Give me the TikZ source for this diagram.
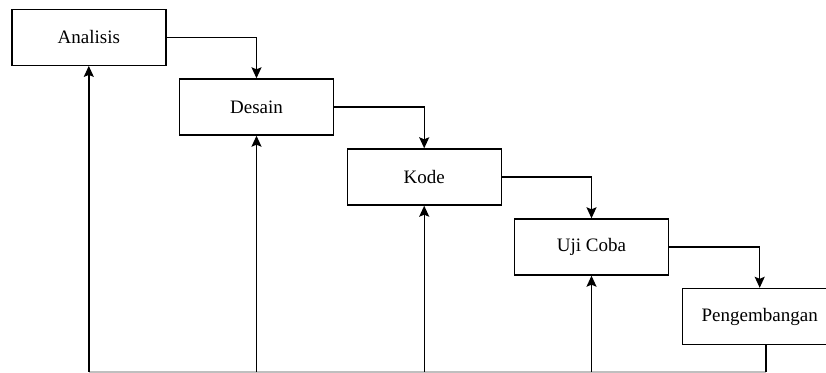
\documentclass[tikz,border=0pt]{standalone}
\usepackage{fontspec}
\setmainfont{Liberation Serif}
\usetikzlibrary{arrows.meta,calc}
\begin{document}
\begin{tikzpicture}[x=1pt,y=-1pt,
  box/.style={draw,line width=1.4pt,minimum width=154pt,minimum height=56pt,inner sep=0pt,
    font=\fontsize{19}{22}\selectfont},
  arr/.style={line width=1.4pt,-{Stealth[length=11pt,width=10pt,inset=2pt]}},
  ln/.style={line width=1.4pt}]
\useasboundingbox (0,0) rectangle (826,372);
\clip (0,0) rectangle (826,372);
\node[box] (ana) at (88.8,37.2) {Analisis};
\node[box] (des) at (256.5,107) {Desain};
\node[box] (kod) at (424.2,177) {Kode};
\node[box] (uji) at (591.5,247) {Uji Coba};
\node[box] (pen) at (759.7,316.5) {Pengembangan};
\coordinate (b5) at (766,371.8);
\coordinate (b1) at (ana.south |- b5);
\coordinate (b2) at (des.south |- b5);
\coordinate (b3) at (kod.south |- b5);
\coordinate (b4) at (uji.south |- b5);
\draw[arr] (ana.east) -| (des.north);
\draw[arr] (des.east) -| (kod.north);
\draw[arr] (kod.east) -| (uji.north);
\draw[arr] (uji.east) -| (pen.north);
\draw[ln,black!25] (b1) -- (b5);
\draw[ln] (pen.south -| b5) -- (b5);
\draw[arr] (b1) -- (ana.south);
\draw[arr] (b2) -- (des.south);
\draw[arr] (b3) -- (kod.south);
\draw[arr] (b4) -- (uji.south);
\end{tikzpicture}
\end{document}
